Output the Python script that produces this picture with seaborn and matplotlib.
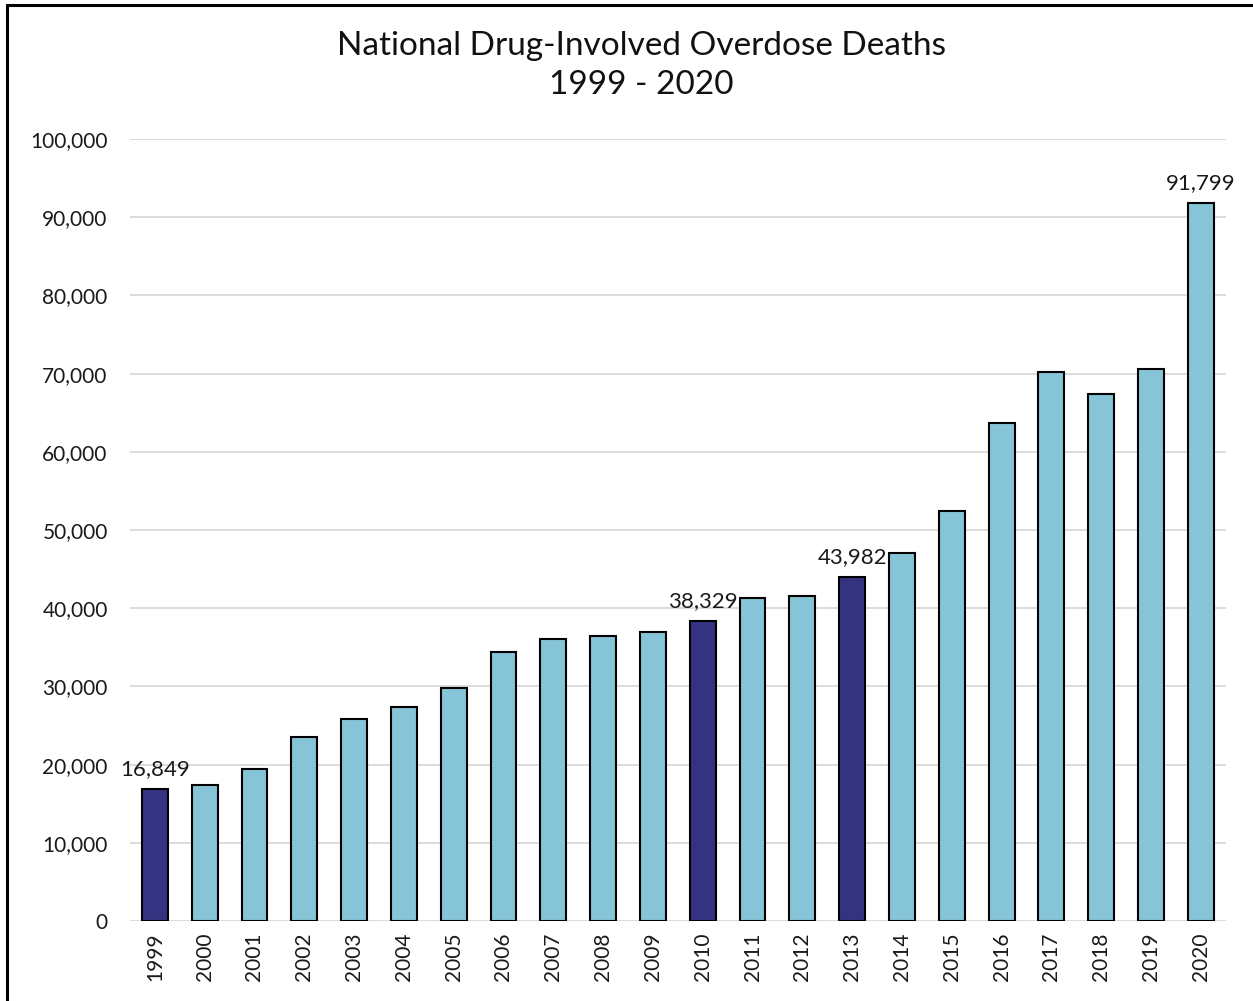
import matplotlib
matplotlib.use("Agg")
import matplotlib.pyplot as plt
import seaborn as sns
import pandas as pd
from matplotlib.ticker import FuncFormatter
from matplotlib.lines import Line2D

years = [str(y) for y in range(1999, 2021)]
deaths = [16849, 17415, 19394, 23518, 25785, 27424, 29813, 34425, 36010, 36450,
          37004, 38329, 41340, 41502, 43982, 47055, 52404, 63632, 70237, 67367,
          70630, 91799]
highlight_years = ["1999", "2010", "2013"]
labeled_years = ["1999", "2010", "2013", "2020"]
title_text = "National Drug-Involved Overdose Deaths\n1999 - 2020"

light_blue = "#86C5D7"
navy = "#333381"

sns.set_theme(style="white")
plt.rcParams['font.family'] = ['Lato', 'DejaVu Sans']

df = pd.DataFrame({"year": years, "deaths": deaths})
df["group"] = ["hi" if y in highlight_years else "lo" for y in years]

fig = plt.figure(figsize=(12.53, 10.01), dpi=100)
ax = fig.add_axes([0.1037, 0.0799, 0.8745, 0.7812])

sns.barplot(data=df, x="year", y="deaths", hue="group",
            palette={"hi": navy, "lo": light_blue}, dodge=False, saturation=1,
            width=0.52, edgecolor="black", linewidth=1.5, legend=False, ax=ax)

ax.set_ylim(0, 100000)
ax.set_xlim(-0.5, 21.5)
ax.set_yticks(range(0, 100001, 10000))
ax.yaxis.set_major_formatter(FuncFormatter(lambda v, p: f"{int(v):,}"))
ax.grid(axis="y", color="#D9D9D9", linewidth=1.3)
ax.set_axisbelow(True)
for s in ax.spines.values():
    s.set_visible(False)
ax.tick_params(axis="y", length=0, labelsize=15, pad=16, labelcolor="#1a1a1a")
ax.tick_params(axis="x", length=0, labelsize=15, rotation=90, pad=8, labelcolor="#1a1a1a")
ax.set_xlabel("")
ax.set_ylabel("")

for i, (y, v) in enumerate(zip(years, deaths)):
    if y in labeled_years:
        ax.annotate(f"{v:,}", (i, v), xytext=(0, 7), textcoords="offset points",
                    ha="center", va="bottom", fontsize=16, color="#1a1a1a")

fig.text(0.512, 0.935, title_text, ha="center", va="center", fontsize=24,
         color="#111111", linespacing=1.38)

# frame remnants (left and top border)
fig.add_artist(Line2D([0.0056, 0.0056], [0.0, 0.9955], color="black", linewidth=2.2,
                      transform=fig.transFigure))
fig.add_artist(Line2D([0.0056, 1.0], [0.9955, 0.9955], color="black", linewidth=2.2,
                      transform=fig.transFigure))

fig.savefig("out.png", dpi=100)
